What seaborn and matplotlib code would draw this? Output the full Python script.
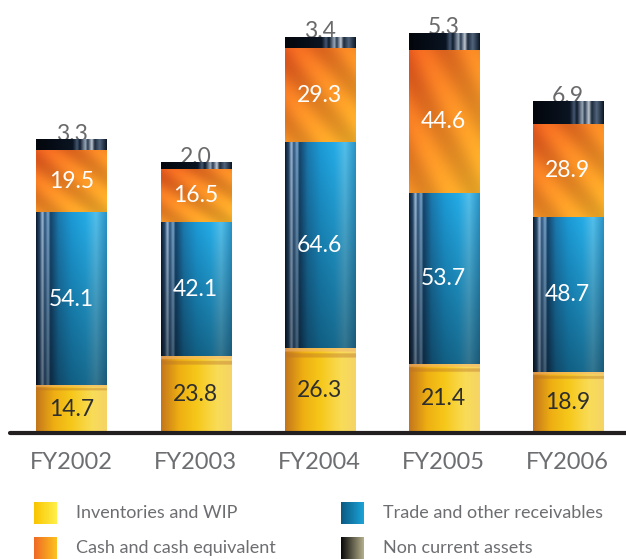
import numpy as np
import pandas as pd
import matplotlib
matplotlib.use("Agg")
import matplotlib.pyplot as plt
from matplotlib.colors import to_rgb
import seaborn as sns

# Balance-sheet asset breakdown, stacked per financial year
years = ["FY2002", "FY2003", "FY2004", "FY2005", "FY2006"]
inventories = [14.7, 23.8, 26.3, 21.4, 18.9]
receivables = [54.1, 42.1, 64.6, 53.7, 48.7]
cash = [19.5, 16.5, 29.3, 44.6, 28.9]
non_current = [3.3, 2.0, 3.4, 5.3, 6.9]
series_names = ["Inventories and WIP", "Trade and other receivables",
                "Cash and cash equivalent", "Non current assets"]

sns.set_theme(style="white")
plt.rcParams["font.family"] = ["Lato", "DejaVu Sans"]
plt.rcParams["font.weight"] = "normal"

keys = ["inv", "rec", "cash", "nc"]
df = pd.DataFrame({"year": years, "inv": inventories, "rec": receivables,
                   "cash": cash, "nc": non_current})
cum = df[keys].cumsum(axis=1)
cum["year"] = years

base_colors = {"inv": "#f4c010", "rec": "#1a7fb0", "cash": "#f08a22", "nc": "#060a12"}
label_colors = {"inv": "#2e2e2e", "rec": "white", "cash": "white"}


def ramp(stops, t):
    pos = np.array([p for p, _ in stops])
    cols = np.array([to_rgb(c) for _, c in stops])
    return np.stack([np.interp(t, pos, cols[:, k]) for k in range(3)], axis=-1)


W, H = 120, 240
xs = np.linspace(0, 1, W)[None, :].repeat(H, 0)
ys = np.linspace(0, 1, H)[:, None].repeat(W, 1)


def tex_inv():
    img = ramp([(0, "#c4761c"), (0.25, "#eeae12"), (0.5, "#f6c81a"),
                (0.8, "#f9dc58"), (1, "#f5d466")], xs)
    band1 = (ys < 0.04)[..., None]
    band2 = ((ys >= 0.06) & (ys < 0.11))[..., None]
    img = np.where(band1, 0.45 * img + 0.55 * np.array(to_rgb("#f2b478")), img)
    img = np.where(band2, 0.6 * img + 0.4 * np.array(to_rgb("#b87028")), img)
    return np.clip(img, 0, 1)


def tex_rec():
    img = ramp([(0, "#0a1a2e"), (0.05, "#23405e"), (0.09, "#8ea8c0"),
                (0.12, "#24466a"), (0.17, "#6a92b2"), (0.2, "#123a5c"),
                (0.32, "#176a98"), (0.5, "#1886ba"), (0.7, "#2095c8"),
                (0.85, "#48a6cc"), (1, "#2380ad")], xs)
    shade = (1.15 - 0.45 * ys)[..., None]
    return np.clip(img * shade, 0, 1)


def tex_cash():
    t = np.clip(0.45 * xs + 0.55 * ys, 0, 1)
    img = ramp([(0, "#e65a1e"), (0.45, "#ee8424"), (1, "#f2ae28")], t)
    bands = 0.06 * np.sin(2 * np.pi * 1.6 * (xs * 0.9 - ys))
    img = img + bands[..., None] * np.array([1.0, 0.8, 0.2])
    return np.clip(img, 0, 1)


def tex_nc():
    return ramp([(0, "#03060c"), (0.52, "#0a1422"), (0.58, "#44576f"),
                 (0.62, "#0e1a2b"), (0.7, "#9aaabb"), (0.73, "#2a3a50"),
                 (0.79, "#c0c8d2"), (0.83, "#1b2a3c"), (0.9, "#51647c"),
                 (1, "#0b1726")], xs)


textures = {"inv": tex_inv(), "rec": tex_rec(), "cash": tex_cash(), "nc": tex_nc()}

fig = plt.figure(figsize=(6.26, 5.59), dpi=100)
ax = fig.add_axes([10 / 626, 126 / 559, 616 / 626, 413 / 559])

# Draw cumulative totals tallest first so each layer shows its own segment
for key in reversed(keys):
    sns.barplot(data=cum, x="year", y=key, order=years, color=base_colors[key],
                saturation=1, width=0.565, ax=ax, zorder=1, linewidth=0)

xlim = (-0.496, 4.47)
ylim = (0, 129.06)

patches = list(ax.patches)
n = len(years)
for li, key in enumerate(reversed(keys)):
    k = keys.index(key)
    for i in range(n):
        p = patches[li * n + i]
        x0, w, top = p.get_x(), p.get_width(), p.get_height()
        bottom = cum[keys[k - 1]].iloc[i] if k > 0 else 0.0
        ax.imshow(textures[key], extent=(x0, x0 + w, bottom, top),
                  aspect="auto", interpolation="bilinear", zorder=2)
        val = df[key].iloc[i]
        xc = x0 + w / 2
        if key == "nc":
            ax.text(xc, top + 1.8, f"{val:.1f}", ha="center", va="center",
                    fontsize=16.5, color="#6a6a6c", zorder=1.5)
        else:
            ax.text(xc, (bottom + top) / 2, f"{val:.1f}", ha="center",
                    va="center", fontsize=16.5, color=label_colors[key], zorder=4)

ax.set_xlim(*xlim)
ax.set_ylim(*ylim)
ax.axhline(0, color="#231f20", lw=3, zorder=5, clip_on=False)
sns.despine(ax=ax, left=True, bottom=True)
ax.set_yticks([])
ax.set_xlabel("")
ax.set_ylabel("")
ax.tick_params(axis="x", length=0, pad=14, labelsize=17, labelcolor="#6d6e71")

# Legend: gradient swatches with labels in two columns
legend_swatches = [("#f9c400", "#fff04a"), ("#0b5a82", "#1ba3d8"),
                   ("#ef6a25", "#fcc21e"), ("#0a0a0a", "#b4ae8a")]
legend_pos = [(34, 502), (341, 502), (34, 537), (341, 537)]
for name, (c0, c1), (px, py) in zip(series_names, legend_swatches, legend_pos):
    sax = fig.add_axes([px / 626, 1 - (py + 22) / 559, 23 / 626, 22 / 559])
    grad = ramp([(0, c0), (1, c1)], np.linspace(0, 1, 40)[None, :].repeat(4, 0))
    sax.imshow(grad, aspect="auto", extent=(0, 1, 0, 1))
    sax.set_axis_off()
    fig.text((px + 42) / 626, 1 - (py + 11) / 559, name, va="center",
             ha="left", fontsize=13, color="#6d6e71")

fig.savefig("out.png", dpi=100)
